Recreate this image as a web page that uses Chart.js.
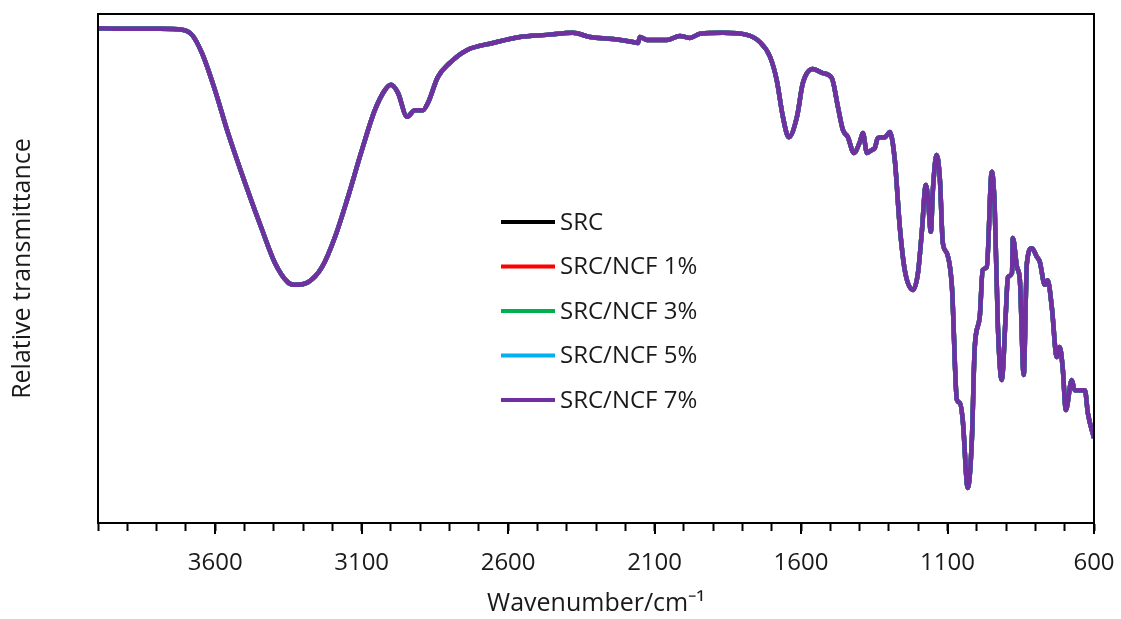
<!DOCTYPE html>
<html><head><meta charset="utf-8">
<script src="https://cdn.jsdelivr.net/npm/chart.js@4.4.0/dist/chart.umd.min.js"></script>
<style>html,body{margin:0;padding:0;background:#fff;}#wrap{width:1121px;height:619px;position:relative;}</style>
</head><body><div id="wrap"><canvas id="c" width="1121" height="619"></canvas></div>
<script>
const wavenumbers = [4000,3891,3788,3713,3679,3645,3601,3556,3498,3440,3396,3352,3328,3283,3235,3191,3147,3099,3055,3020,3000,2976,2945,2918,2891,2874,2840,2799,2741,2652,2560,2468,2379,2321,2242,2174,2157,2150,2126,2058,2014,1980,1945,1867,1785,1741,1706,1683,1662,1642,1614,1594,1560,1526,1495,1474,1457,1440,1420,1399,1389,1375,1358,1348,1338,1314,1297,1280,1263,1246,1218,1201,1188,1174,1167,1157,1150,1137,1126,1116,1102,1085,1068,1058,1048,1031,1017,1007,990,980,966,949,939,928,915,901,894,880,877,863,853,840,829,812,795,785,768,758,744,727,717,707,696,676,666,631,621,600];
const transmittance = [97.2,97.1,97.1,96.9,95.9,92.3,85.1,76.6,66.8,57.6,51.1,47.3,46.8,47.3,50.3,56.2,64.0,73.3,81.1,85.1,86.1,84.5,79.8,81.1,81.1,82.5,87.6,90.4,92.9,94.3,95.5,95.9,96.3,95.5,95.1,94.5,94.3,95.5,94.9,94.9,95.7,95.3,96.1,96.3,95.9,94.5,91.6,87.0,79.8,75.8,79.8,86.4,89.2,88.4,87.4,81.7,77.2,75.8,72.7,74.9,76.6,72.7,73.3,73.7,75.6,75.8,76.8,71.3,58.2,49.7,45.8,49.1,57.0,66.4,64.0,57.2,65.4,72.3,67.4,55.0,53.0,46.4,24.2,23.6,20.2,6.9,16.3,34.6,40.5,49.7,50.3,69.0,62.1,38.5,28.1,41.3,48.3,49.1,56.0,50.3,47.7,29.1,51.1,54.0,52.3,51.3,46.8,47.7,42.4,32.6,34.6,30.6,22.2,28.1,26.1,26.1,21.6,16.7];
const seriesNames = ['SRC','SRC/NCF 1%','SRC/NCF 3%','SRC/NCF 5%','SRC/NCF 7%'];
const seriesColors = ['#000000','#FF0000','#00B050','#00B0F0','#7030A0'];
const tickValues = [4000,3900,3800,3700,3600,3500,3400,3300,3200,3100,3000,2900,2800,2700,2600,2500,2400,2300,2200,2100,2000,1900,1800,1700,1600,1500,1400,1300,1200,1100,1000,900,800,700,600];
const majorTickLabels = [3600,3100,2600,2100,1600,1100,600];

const FONT = "'Open Sans', 'Liberation Sans', sans-serif";
const TEXT = '#1a1a1a';

const points = wavenumbers.map((w, i) => ({x: w, y: transmittance[i]}));
const datasets = seriesNames.map((name, i) => ({
  label: name,
  data: points,
  borderColor: seriesColors[i],
  backgroundColor: seriesColors[i],
  borderWidth: 4.5,
  pointRadius: 0,
  fill: false,
  cubicInterpolationMode: 'monotone',
  order: seriesNames.length - i
}));

const framePlugin = {
  id: 'frame',
  afterDatasetsDraw(chart) {
    const ctx = chart.ctx, a = chart.chartArea, xs = chart.scales.x;
    ctx.save();
    ctx.strokeStyle = '#000';
    ctx.lineWidth = 2;
    ctx.strokeRect(a.left, a.top, a.right - a.left, a.bottom - a.top);
    ctx.beginPath();
    majorTickLabels.forEach(v => {
      const px = Math.round(xs.getPixelForValue(v));
      ctx.moveTo(px, a.bottom);
      ctx.lineTo(px, a.bottom + 11);
    });
    ctx.stroke();
    ctx.font = "24px " + FONT;
    ctx.textBaseline = 'middle';
    ctx.textAlign = 'left';
    seriesNames.forEach((name, i) => {
      const y = 222 + i * 44.5;
      ctx.strokeStyle = seriesColors[i];
      ctx.lineWidth = 4;
      ctx.beginPath();
      ctx.moveTo(501, y);
      ctx.lineTo(555, y);
      ctx.stroke();
      ctx.fillStyle = TEXT;
      ctx.fillText(name, 560, y + 1);
    });
    ctx.restore();
  }
};

new Chart(document.getElementById('c'), {
  type: 'line',
  data: { datasets },
  plugins: [framePlugin],
  options: {
    responsive: false,
    animation: false,
    devicePixelRatio: 1,
    layout: { padding: { top: 14, right: 27, left: 0, bottom: 0 } },
    plugins: { legend: { display: false }, tooltip: { enabled: false } },
    scales: {
      x: {
        type: 'linear',
        reverse: true,
        min: 600,
        max: 4000,
        afterBuildTicks: s => { s.ticks = tickValues.map(v => ({ value: v })); },
        afterFit: s => { s.height = 619 - 523; s.paddingLeft = 0; s.paddingRight = 0; },
        ticks: {
          autoSkip: false,
          maxRotation: 0,
          padding: 18,
          color: TEXT,
          font: { family: FONT, size: 24 },
          callback: v => majorTickLabels.includes(v) ? String(v) : ''
        },
        grid: { display: true, drawOnChartArea: false, drawTicks: true, tickLength: 8, tickWidth: 2, tickColor: '#000' },
        border: { display: true, color: '#000', width: 2 },
        title: { display: true, text: 'Wavenumber/cm\u207B\u00B9', color: TEXT, font: { family: FONT, size: 25 }, padding: { top: 0, bottom: 0 } }
      },
      y: {
        min: 0,
        max: 100,
        afterFit: s => { s.width = 98; s.paddingTop = 0; s.paddingBottom = 0; },
        ticks: { display: false },
        grid: { display: false },
        border: { display: true, color: '#000', width: 2 },
        title: { display: true, text: 'Relative transmittance', color: TEXT, font: { family: FONT, size: 25 }, padding: { top: 8, bottom: 0 } }
      }
    }
  }
});
</script></body></html>
